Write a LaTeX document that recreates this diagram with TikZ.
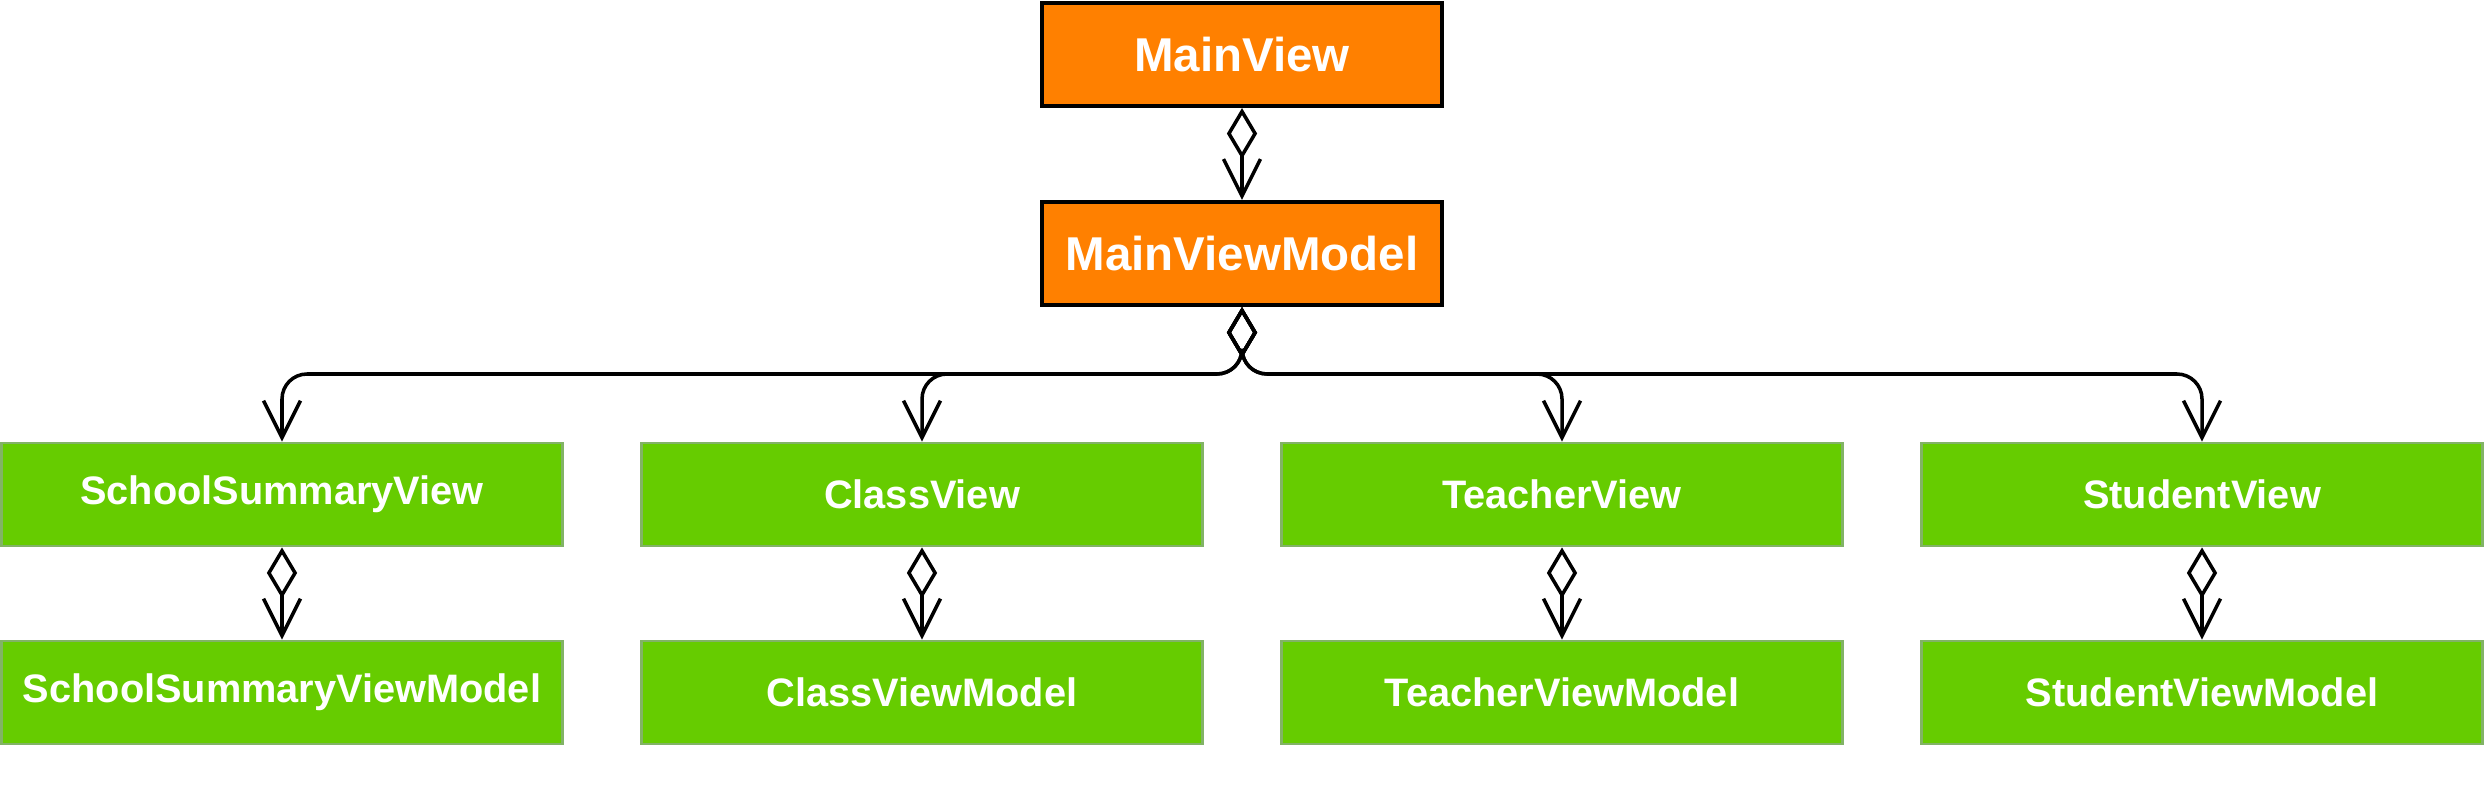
\documentclass[tikz,border=0pt]{standalone}
\usepackage{fontspec}
\setmainfont{Liberation Sans}
\usetikzlibrary{arrows.meta}
\definecolor{mvorange}{HTML}{FF8000}
\definecolor{vmgreen}{HTML}{66CC00}
\definecolor{vmedge}{HTML}{82B366}

\begin{document}
\begin{tikzpicture}[x=0.01cm, y=0.01cm,
    mainbox/.style={draw=black, line width=1.15pt, fill=mvorange, text=white, inner sep=0pt,
        minimum width=4cm, minimum height=1.03cm, font=\fontsize{13.5}{16}\selectfont\bfseries},
    subbox/.style={draw=vmedge, line width=0.8pt, fill=vmgreen, text=white, inner sep=0pt,
        minimum width=5.6cm, minimum height=1.03cm, font=\fontsize{11.3}{14}\selectfont\bfseries},
    agg/.style={line width=1pt, rounded corners=0.25cm,
        {Diamond[open, length=14.5pt, width=8.6pt]}-{Straight Barb[length=10.5pt, width=10.5pt]}}]
\useasboundingbox (0, 0) rectangle (2488, -800);
    \node[mainbox] (mv) at (1242, -54.5) {MainView};
    \node[mainbox] (mvm) at (1242, -253.5) {MainViewModel};
    \coordinate (bus) at (1242, -374);

    \node[subbox] (ssv) at (282, -494.5) {SchoolSummaryView};
    \node[subbox] (cv) at (922, -494.5) {ClassView};
    \node[subbox] (tv) at (1562, -494.5) {TeacherView};
    \node[subbox] (sv) at (2202, -494.5) {StudentView};

    \node[subbox] (ssvm) at (282, -692.5) {SchoolSummaryViewModel};
    \node[subbox] (cvm) at (922, -692.5) {ClassViewModel};
    \node[subbox] (tvm) at (1562, -692.5) {TeacherViewModel};
    \node[subbox] (svm) at (2202, -692.5) {StudentViewModel};

    \draw[agg] (mv) -- (mvm);
    \draw[agg] (mvm.south) -- (bus) -| (ssv.north);
    \draw[agg] (mvm.south) -- (bus) -| (cv.north);
    \draw[agg] (mvm.south) -- (bus) -| (tv.north);
    \draw[agg] (mvm.south) -- (bus) -| (sv.north);

    \draw[agg] (ssv) -- (ssvm);
    \draw[agg] (cv) -- (cvm);
    \draw[agg] (tv) -- (tvm);
    \draw[agg] (sv) -- (svm);
\end{tikzpicture}
\end{document}
